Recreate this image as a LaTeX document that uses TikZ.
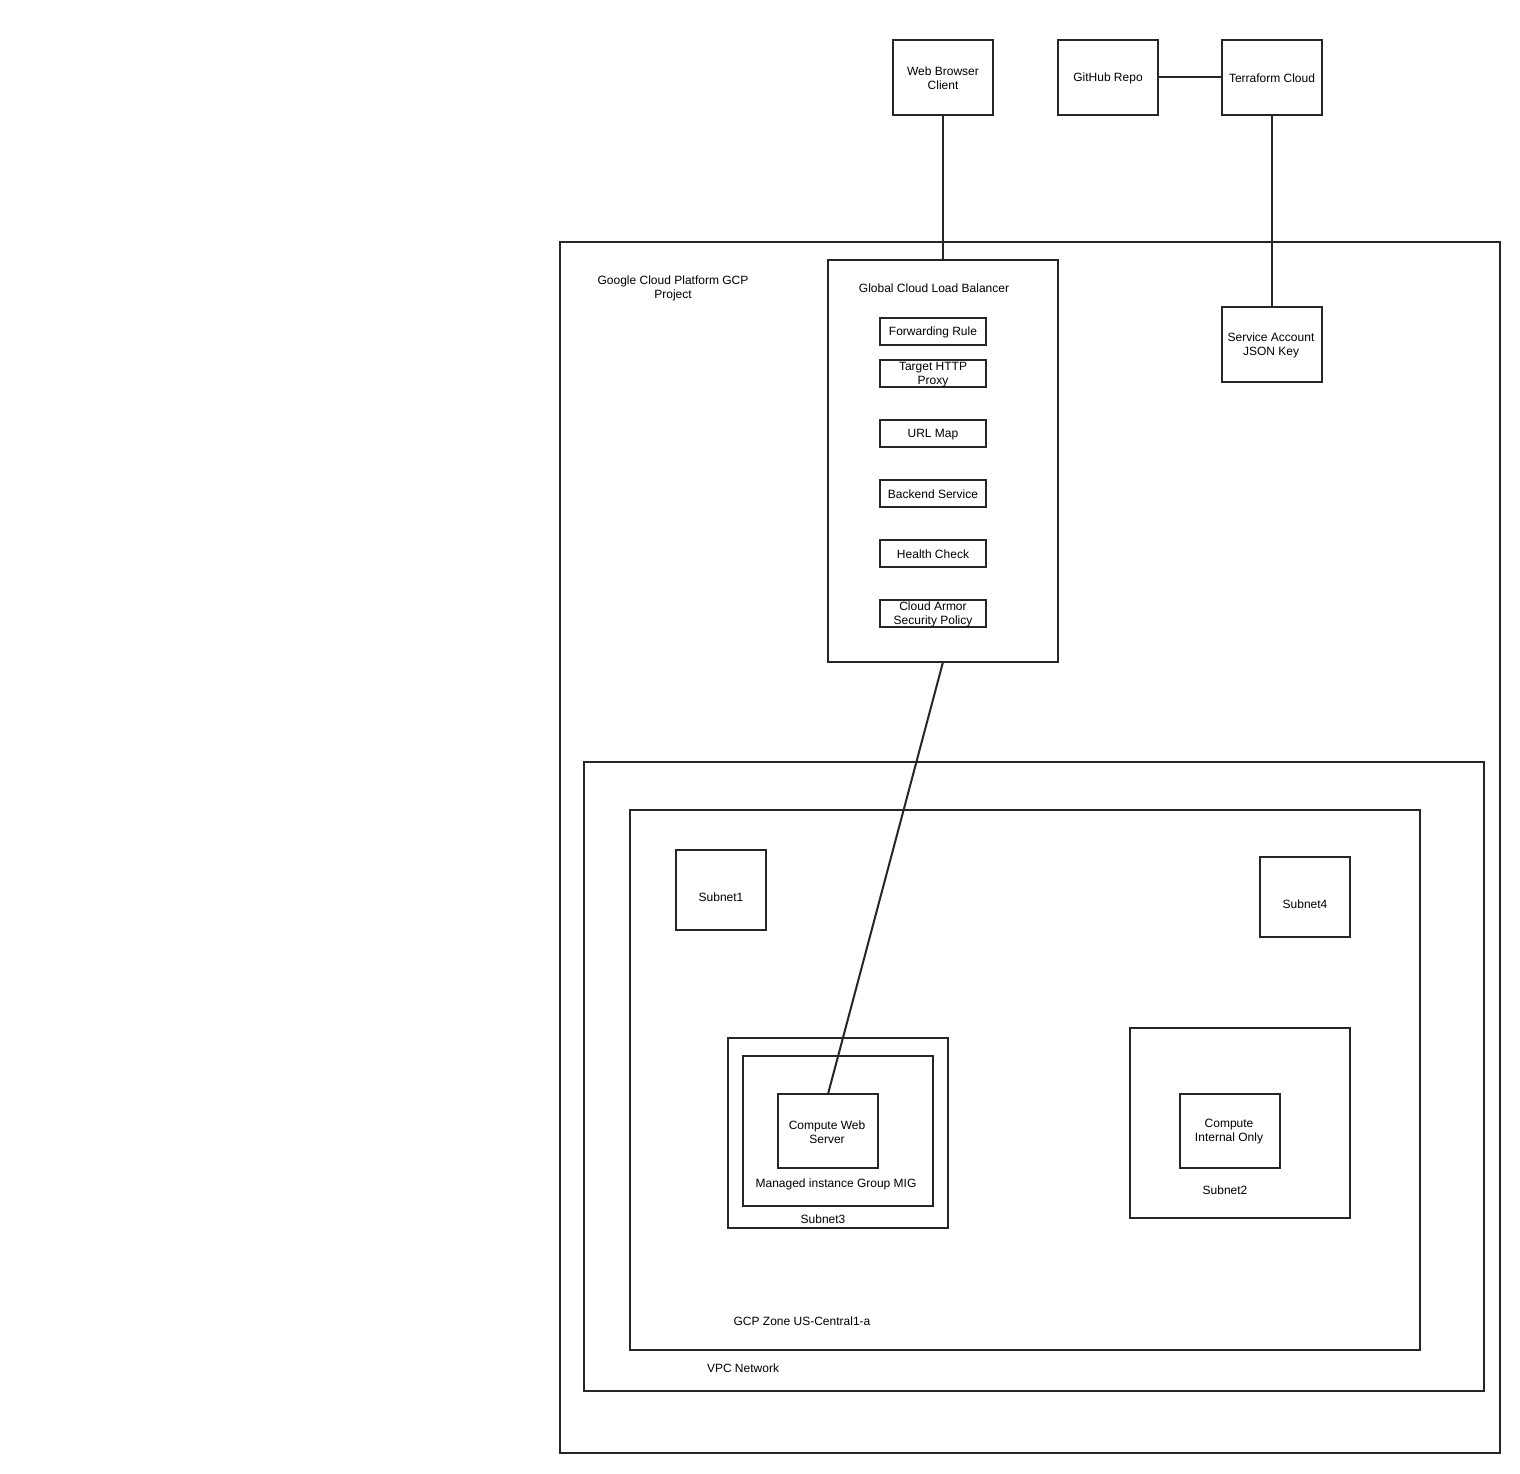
\documentclass[tikz,border=0pt]{standalone}
\usepackage{fontspec}
\setmainfont{Liberation Sans}
\begin{document}
\begin{tikzpicture}[x=1pt,y=-1pt,
  box/.style={draw=black!85,line width=1.6pt},
  lbl/.style={font=\fontsize{12}{14}\selectfont,align=center,inner sep=0pt},
  conn/.style={draw=black!85,line width=2pt}]
\useasboundingbox[fill=white] (0,0) rectangle (1520,1473);
% outer containers
\draw[box] (560,242) rectangle (1500,1453);
\node[lbl] (gcpl) at (673,288) {Google Cloud Platform GCP\\Project};
\draw[box] (584,762) rectangle (1484,1391);
\node[lbl] (vpcl) at (743,1368) {VPC Network};
\draw[box] (630,810) rectangle (1420,1350);
\node[lbl] (zonel) at (802,1321) {GCP Zone US-Central1-a};
% top nodes
\draw[box] (893,40) rectangle (993,115);
\node[lbl] (web) at (943,78.5) {Web Browser\\Client};
\coordinate (webB) at (943,115);
\draw[box] (1058,40) rectangle (1158,115);
\node[lbl] (gh) at (1108,78.5) {GitHub Repo};
\coordinate (ghR) at (1158,77);
\draw[box] (1222,40) rectangle (1322,115);
\node[lbl] (tf) at (1272,78.5) {Terraform Cloud};
\coordinate (tfL) at (1222,77);
\coordinate (tfB) at (1272,115);
\draw[box] (1222,307) rectangle (1322,382);
\node[lbl] (sa) at (1271,345.5) {Service Account\\JSON Key};
\coordinate (saT) at (1272,307);
% load balancer
\draw[box] (828,260) rectangle (1058,662);
\coordinate (lbT) at (943,260);
\coordinate (lbB) at (943,662);
\node[lbl] (lbl) at (934,288) {Global Cloud Load Balancer};
\foreach \y/\t/\n in {318/Forwarding Rule/fr,360/{Target HTTP\\Proxy}/thp,420/URL Map/um,480/Backend Service/bs,540/Health Check/hc,600/{Cloud Armor\\Security Policy}/ca}{
  \draw[box] (880,\y) rectangle (986,\y+27);
  \node[lbl,font=\fontsize{12}{13.5}\selectfont] (\n) at (933,\y+14.5) {\t};
}
% subnets
\draw[box] (676,850) rectangle (766,930);
\node[lbl] (s1) at (721,897) {Subnet1};
\draw[box] (1260,857) rectangle (1350,937);
\node[lbl] (s4) at (1305,904) {Subnet4};
\draw[box] (728,1038) rectangle (948,1228);
\node[lbl] (s3) at (823,1219) {Subnet3};
\draw[box] (743,1056) rectangle (933,1206);
\node[lbl] (mig) at (836,1184) {Managed instance Group MIG};
\draw[box] (778,1094) rectangle (878,1168);
\node[lbl] (cws) at (827,1132) {Compute Web\\Server};
\coordinate (cwsT) at (828,1094);
\draw[box] (1130,1028) rectangle (1350,1218);
\node[lbl] (s2) at (1225,1190) {Subnet2};
\draw[box] (1180,1094) rectangle (1280,1168);
\node[lbl] (cio) at (1229,1132) {Compute\\Internal Only};
% connectors
\draw[conn] (webB) -- (lbT);
\draw[conn] (ghR) -- (tfL);
\draw[conn] (tfB) -- (saT);
\draw[conn] (lbB) -- (cwsT);
\end{tikzpicture}
\end{document}
